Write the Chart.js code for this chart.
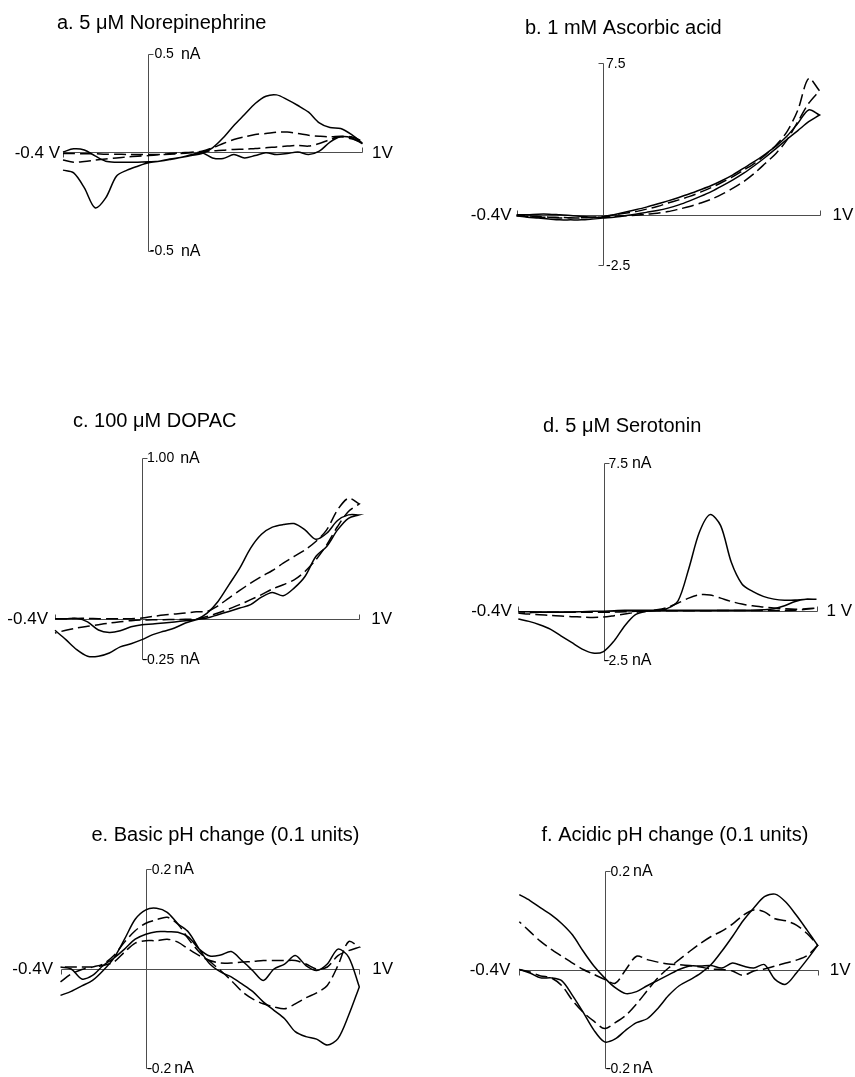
<!DOCTYPE html>
<html>
<head>
<meta charset="utf-8">
<script src="https://cdn.jsdelivr.net/npm/chart.js@4.4.0/dist/chart.umd.min.js"></script>
<style>
  html, body { margin: 0; padding: 0; background: #ffffff; }
  #wrap { position: relative; width: 855px; height: 1077px; overflow: hidden; background: #fff; }
  #wrap canvas { position: absolute; left: 0; top: 0; }
</style>
</head>
<body>
<div id="wrap">
  <canvas id="pa" width="855" height="1077"></canvas>
  <canvas id="pb" width="855" height="1077"></canvas>
  <canvas id="pc" width="855" height="1077"></canvas>
  <canvas id="pd" width="855" height="1077"></canvas>
  <canvas id="pe" width="855" height="1077"></canvas>
  <canvas id="pf" width="855" height="1077"></canvas>
</div>
<script>
// ---------- Potential sweeps (V) ----------
const scanUp   = [-0.4,-0.35,-0.3,-0.25,-0.2,-0.15,-0.1,-0.05,0,0.05,0.1,0.15,0.2,0.25,0.3,0.35,0.4,0.45,0.5,0.55,0.6,0.65,0.7,0.75,0.8,0.85,0.9,0.95,1.0];
const scanDown = [1.0,0.95,0.9,0.85,0.8,0.75,0.7,0.65,0.6,0.55,0.5,0.45,0.4,0.35,0.3,0.25,0.2,0.15,0.1,0.05,0,-0.05,-0.1,-0.15,-0.2,-0.25,-0.3,-0.35,-0.4];

// ---------- a. 5 uM Norepinephrine (nA) ----------
const aSolidUp   = [0.00,0.016,0.01,-0.02,-0.047,-0.052,-0.052,-0.052,-0.05,-0.047,-0.035,-0.028,-0.018,-0.008,0.021,0.072,0.135,0.19,0.246,0.283,0.29,0.266,0.236,0.202,0.148,0.124,0.119,0.089,0.047];
const aSolidDown = [0.043,0.072,0.077,0.05,0.004,-0.013,0.0,-0.008,-0.013,-0.004,-0.018,-0.03,-0.013,-0.033,-0.03,-0.004,-0.014,-0.028,-0.038,-0.047,-0.055,-0.072,-0.092,-0.123,-0.233,-0.283,-0.182,-0.106,-0.092];
const aDashUp    = [-0.008,-0.008,-0.009,-0.009,-0.011,-0.011,-0.013,-0.013,-0.013,-0.013,-0.008,-0.004,-0.001,0.004,0.021,0.043,0.063,0.077,0.089,0.094,0.101,0.101,0.094,0.085,0.080,0.077,0.080,0.077,0.055];
const aDashDown  = [0.05,0.067,0.077,0.063,0.043,0.03,0.033,0.03,0.026,0.021,0.018,0.014,0.013,0.009,0.006,0.001,-0.004,-0.008,-0.011,-0.014,-0.018,-0.021,-0.025,-0.03,-0.035,-0.041,-0.048,-0.052,-0.041];

// ---------- b. 1 mM Ascorbic acid ----------
const bSolidUp   = [0,0,0.03,0.03,0,-0.03,-0.08,-0.12,-0.12,0,0.13,0.25,0.38,0.53,0.69,0.86,1.04,1.24,1.45,1.70,1.98,2.31,2.64,3.01,3.41,3.90,4.53,5.19,4.94];
const bSolidDown = [4.94,4.61,4.17,3.74,3.29,2.85,2.44,2.06,1.73,1.43,1.15,0.91,0.69,0.49,0.33,0.21,0.12,0.03,-0.05,-0.12,-0.16,-0.21,-0.25,-0.25,-0.25,-0.21,-0.16,-0.12,-0.05];
const bDashUp    = [-0.05,-0.08,-0.12,-0.13,-0.16,-0.16,-0.16,-0.12,-0.08,0,0.08,0.16,0.28,0.41,0.58,0.74,0.91,1.12,1.35,1.61,1.89,2.22,2.55,2.97,3.46,4.12,5.19,6.75,6.14];
const bDashDown  = [6.14,5.52,4.61,3.71,3.05,2.55,2.06,1.65,1.32,1.02,0.77,0.58,0.41,0.28,0.16,0.08,0.03,-0.02,-0.05,-0.08,-0.12,-0.13,-0.15,-0.15,-0.13,-0.12,-0.08,-0.05,-0.05];

// ---------- c. 100 uM DOPAC (nA) ----------
const cSolidUp   = [0,0,0.002,-0.02,-0.07,-0.085,-0.075,-0.05,-0.037,-0.033,-0.027,-0.02,-0.012,-0.004,0.035,0.107,0.21,0.314,0.438,0.524,0.568,0.584,0.59,0.551,0.493,0.53,0.609,0.644,0.644];
const cSolidDown = [0.644,0.623,0.551,0.448,0.386,0.262,0.19,0.142,0.163,0.134,0.087,0.066,0.045,0.025,0.004,-0.006,-0.027,-0.058,-0.078,-0.099,-0.13,-0.155,-0.175,-0.213,-0.233,-0.233,-0.192,-0.13,-0.072];
const cDashUp    = [0,0,0.002,0.002,0,0,0,0,0.004,0.014,0.023,0.029,0.035,0.043,0.045,0.08,0.128,0.175,0.221,0.262,0.299,0.345,0.386,0.427,0.479,0.551,0.675,0.747,0.712];
const cDashDown  = [0.712,0.665,0.572,0.458,0.365,0.293,0.241,0.211,0.184,0.149,0.118,0.087,0.06,0.035,0.014,-0.002,-0.004,-0.005,-0.006,-0.007,-0.008,-0.012,-0.019,-0.027,-0.037,-0.047,-0.058,-0.072,-0.089];

// ---------- d. 5 uM Serotonin (nA) ----------
const dSolidUp   = [-0.05,-0.05,-0.07,-0.07,-0.07,-0.07,-0.05,-0.03,-0.02,0,0.02,0.02,0.03,0.04,0.12,0.5,2.12,3.98,4.88,4.32,2.46,1.36,0.98,0.73,0.59,0.53,0.54,0.59,0.58];
const dSolidDown = [0.58,0.58,0.47,0.25,0.1,0.05,0.03,0.03,0.02,0.02,0.02,0.02,0.02,0.02,0.02,0.02,-0.03,-0.2,-0.76,-1.53,-2.07,-2.15,-1.95,-1.61,-1.27,-0.93,-0.71,-0.54,-0.42];
const dDashUp    = [-0.12,-0.17,-0.2,-0.24,-0.27,-0.3,-0.32,-0.34,-0.32,-0.25,-0.17,-0.08,-0.02,0.05,0.17,0.39,0.64,0.81,0.8,0.64,0.47,0.34,0.25,0.19,0.14,0.1,0.08,0.1,0.14];
const dDashDown  = [0.14,0.07,0.03,0.01,0.01,0.01,0.01,0.01,0.01,0.01,0,0,0,0,0,0,-0.02,-0.03,-0.05,-0.07,-0.08,-0.08,-0.08,-0.08,-0.08,-0.08,-0.08,-0.1,-0.12];

// ---------- e. Basic pH change (nA) ----------
const eSolidUp   = [-0.054,-0.046,-0.035,-0.024,-0.004,0.021,0.059,0.099,0.118,0.121,0.113,0.09,0.073,0.039,0.009,-0.007,-0.017,-0.031,-0.046,-0.067,-0.084,-0.101,-0.127,-0.137,-0.142,-0.154,-0.141,-0.094,-0.037];
const eSolidDown = [-0.037,0.023,0.039,0.009,-0.004,0.006,0.026,0.009,-0.001,-0.024,-0.004,0.016,0.034,0.027,0.025,0.039,0.063,0.073,0.074,0.074,0.069,0.059,0.039,0.021,0.006,-0.014,-0.021,-0.001,0.003];
const eDashUp    = [-0.027,-0.011,-0.002,0.003,0.009,0.026,0.053,0.076,0.091,0.098,0.103,0.089,0.059,0.033,0.014,-0.004,-0.024,-0.046,-0.061,-0.071,-0.077,-0.081,-0.071,-0.059,-0.049,-0.034,0.006,0.054,0.043];
const eDashDown  = [0.043,0.036,0.026,0.003,-0.001,0.009,0.016,0.016,0.016,0.016,0.014,0.013,0.011,0.011,0.016,0.026,0.039,0.053,0.059,0.056,0.056,0.051,0.033,0.013,0.006,0.003,0.003,0.003,0.003];

// ---------- f. Acidic pH change (nA) ----------
const fSolidUp   = [0,-0.007,-0.017,-0.017,-0.023,-0.053,-0.087,-0.123,-0.147,-0.141,-0.123,-0.108,-0.1,-0.079,-0.053,-0.033,-0.021,-0.008,0.01,0.037,0.067,0.099,0.125,0.148,0.153,0.137,0.11,0.08,0.049];
const fSolidDown = [0.049,0.02,-0.007,-0.03,-0.02,0.01,0.003,0.007,0.013,0.003,0.008,0.007,0.007,0,-0.011,-0.022,-0.033,-0.045,-0.049,-0.037,-0.017,0.007,0.037,0.07,0.093,0.111,0.125,0.14,0.152];
const fDashUp    = [0,-0.005,-0.013,-0.017,-0.033,-0.063,-0.087,-0.105,-0.12,-0.108,-0.093,-0.07,-0.043,-0.017,0.003,0.02,0.037,0.053,0.067,0.078,0.092,0.11,0.121,0.117,0.103,0.099,0.09,0.073,0.049];
const fDashDown  = [0.049,0.028,0.019,0.013,0.007,0.001,-0.003,-0.012,-0.003,0,0.001,0.005,0.008,0.01,0.011,0.015,0.02,0.027,0,-0.028,-0.02,-0.01,0,0.013,0.027,0.041,0.057,0.077,0.097];

// ---------- Text ----------
const panelTitles = ['a. 5 \u03BCM Norepinephrine','b. 1 mM Ascorbic acid','c. 100 \u03BCM DOPAC','d. 5 \u03BCM Serotonin','e. Basic pH change (0.1 units)','f. Acidic pH change (0.1 units)'];
const yRanges = [[-0.5,0.5],[-2.5,7.5],[-0.25,1.0],[-2.5,7.5],[-0.2,0.2],[-0.2,0.2]];
const topLabels = ['0.5','7.5','1.00','7.5','0.2','0.2'];
const bottomLabels = ['-0.5','-2.5','-0.25','-2.5','-0.2','-0.2'];
const unitLabels = ['nA','','nA','nA','nA','nA'];
const leftLabels = ['-0.4 V','-0.4V','-0.4V','-0.4V','-0.4V','-0.4V'];
const rightLabels = ['1V','1V','1V','1 V','1V','1V'];

const FONT = "'Liberation Sans', Arial, Helvetica, sans-serif";

function pts(xs, ys) { return xs.map((v, i) => ({x: v, y: ys[i]})); }
function loop(up, down) { return pts(scanUp, up).concat(pts(scanDown, down)); }

const cvAxes = {
  id: 'cvAxes',
  beforeDatasetsDraw(chart, args, o) {
    const ctx = chart.ctx, x = chart.scales.x, y = chart.scales.y;
    const P = v => Math.round(v) + 0.5;
    const x0 = P(x.getPixelForValue(0)), xl = P(x.getPixelForValue(x.min)), xr = P(x.getPixelForValue(x.max));
    const y0 = P(y.getPixelForValue(0)), yt = P(y.getPixelForValue(y.max)), yb = P(y.getPixelForValue(y.min));
    ctx.save();
    ctx.strokeStyle = '#4d4d4d';
    ctx.lineWidth = 1;
    ctx.setLineDash([]);
    ctx.beginPath();
    ctx.moveTo(xl, y0); ctx.lineTo(xr, y0);
    ctx.moveTo(x0, yt); ctx.lineTo(x0, yb);
    ctx.moveTo(xl, y0); ctx.lineTo(xl, y0 + 5 * o.leftTick);
    ctx.moveTo(xr, y0); ctx.lineTo(xr, y0 + 5 * o.rightTick);
    ctx.moveTo(x0, yt); ctx.lineTo(x0 + 5 * o.vTick, yt);
    ctx.moveTo(x0, yb); ctx.lineTo(x0 + 5 * o.vTick, yb);
    ctx.stroke();
    ctx.restore();
  },
  afterDraw(chart, args, o) {
    const ctx = chart.ctx, x = chart.scales.x, y = chart.scales.y;
    const x0 = x.getPixelForValue(0), xl = x.getPixelForValue(x.min), xr = x.getPixelForValue(x.max);
    const y0 = y.getPixelForValue(0), yt = y.getPixelForValue(y.max), yb = y.getPixelForValue(y.min);
    ctx.save();
    ctx.fillStyle = '#000';
    // title
    ctx.font = '20px ' + FONT;
    ctx.textAlign = 'left'; ctx.textBaseline = 'middle';
    ctx.fillText(o.title, o.titleX, o.titleY);
    // horizontal axis end labels
    ctx.font = '17px ' + FONT;
    ctx.textAlign = 'right';
    ctx.fillText(o.left, xl - o.leftGap, y0 + 1);
    ctx.textAlign = 'left';
    ctx.fillText(o.right, xr + o.rightGap, y0 + 1);
    // vertical axis labels
    ctx.textBaseline = 'alphabetic';
    const drawLab = (num, yy, isBottom) => {
      ctx.font = '14px ' + FONT;
      let tx = x0 + o.numDx;
      if (isBottom && o.minusOnTick) tx -= ctx.measureText('-').width;
      ctx.fillText(num, tx, yy + 4.5);
      const w = ctx.measureText(num).width;
      if (o.unit) {
        ctx.font = '16px ' + FONT;
        ctx.fillText(o.unit, tx + w + o.unitGap, yy + 5);
      }
    };
    drawLab(o.top, yt, false);
    drawLab(o.bottom, yb, true);
    ctx.restore();
  }
};

const panelBoxes = {
  pa: {l: 63,    t: 53.5,  r: 362,   b: 250.5},
  pb: {l: 516.5, t: 63.3,  r: 819.5, b: 265.3},
  pc: {l: 55,    t: 457.5, r: 359.3, b: 659},
  pd: {l: 518.3, t: 463,   r: 816.5, b: 660},
  pe: {l: 60.5,  t: 869,   r: 359.3, b: 1068},
  pf: {l: 519.3, t: 871,   r: 817.7, b: 1068}
};
const panelDecor = {
  pa: {titleX: 57,    titleY: 23,  leftGap: 3,   leftTick: 1,  rightGap: 10, rightTick: -1, vTick: 1,  numDx: 6, minusOnTick: true,  unitGap: 7},
  pb: {titleX: 525,   titleY: 28,  leftGap: 5,   leftTick: -1, rightGap: 13, rightTick: -1, vTick: -1, numDx: 3, minusOnTick: false, unitGap: 5},
  pc: {titleX: 73,    titleY: 421, leftGap: 7,   leftTick: -1, rightGap: 12, rightTick: -1, vTick: 1,  numDx: 5, minusOnTick: true,  unitGap: 6},
  pd: {titleX: 543,   titleY: 426, leftGap: 6.5, leftTick: -1, rightGap: 10, rightTick: -1, vTick: 1,  numDx: 5, minusOnTick: true,  unitGap: 4},
  pe: {titleX: 91.5,  titleY: 835, leftGap: 7.5, leftTick: 1,  rightGap: 13, rightTick: 1,  vTick: 1,  numDx: 6, minusOnTick: true,  unitGap: 3},
  pf: {titleX: 541.5, titleY: 835, leftGap: 9,   leftTick: 1,  rightGap: 12, rightTick: 1,  vTick: 1,  numDx: 6, minusOnTick: true,  unitGap: 3}
};
const panelData = {
  pa: [aSolidUp, aSolidDown, aDashUp, aDashDown],
  pb: [bSolidUp, bSolidDown, bDashUp, bDashDown],
  pc: [cSolidUp, cSolidDown, cDashUp, cDashDown],
  pd: [dSolidUp, dSolidDown, dDashUp, dDashDown],
  pe: [eSolidUp, eSolidDown, eDashUp, eDashDown],
  pf: [fSolidUp, fSolidDown, fDashUp, fDashDown]
};

['pa','pb','pc','pd','pe','pf'].forEach((id, i) => {
  const box = panelBoxes[id], dec = panelDecor[id], d = panelData[id];
  const lineBase = {showLine: true, borderColor: '#000', borderWidth: 1.5, pointRadius: 0, pointHoverRadius: 0, tension: 0.3, clip: false, fill: false};
  new Chart(document.getElementById(id), {
    type: 'scatter',
    data: {
      datasets: [
        Object.assign({label: 'solid', data: loop(d[0], d[1]), borderDash: []}, lineBase),
        Object.assign({label: 'dashed', data: loop(d[2], d[3]), borderDash: [12, 5]}, lineBase)
      ]
    },
    options: {
      responsive: false,
      animation: false,
      devicePixelRatio: 1,
      events: [],
      layout: {padding: {left: box.l, top: box.t, right: 855 - box.r, bottom: 1077 - box.b}},
      scales: {
        x: {type: 'linear', min: -0.4, max: 1.0, display: false},
        y: {type: 'linear', min: yRanges[i][0], max: yRanges[i][1], display: false}
      },
      plugins: {
        legend: {display: false},
        tooltip: {enabled: false},
        title: {display: false},
        cvAxes: Object.assign({
          title: panelTitles[i], left: leftLabels[i], right: rightLabels[i],
          top: topLabels[i], bottom: bottomLabels[i], unit: unitLabels[i]
        }, dec)
      }
    },
    plugins: [cvAxes]
  });
});
</script>
</body>
</html>
